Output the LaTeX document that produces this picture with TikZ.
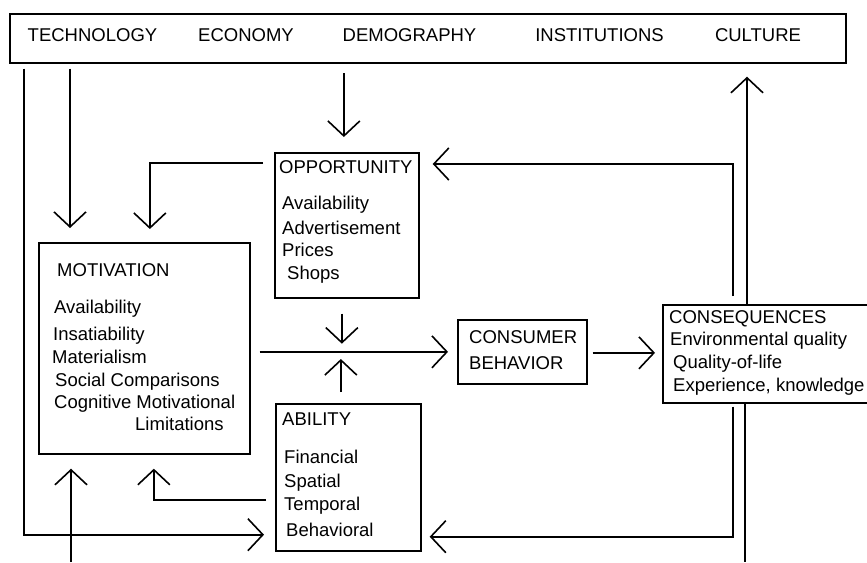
\documentclass[tikz,border=0pt]{standalone}
\usepackage{fontspec}
\setmainfont{Liberation Sans}
\usepackage{tikz}
\usetikzlibrary{arrows.meta,calc}
\tikzset{box style/.style = {%
  draw = black,
  line width = 1.7pt,
  inner sep = 0pt,
  anchor = north west
 },
 label style/.style = {%
  anchor = base west,
  inner sep = 0pt,
  font = \fontsize{18.5}{22}\selectfont
 },
 flow style/.style = {%
  line width = 1.6pt,
  -{Straight Barb[length=15pt,width=32pt,line width=1.6pt]}
 },
 line style/.style = {%
  line width = 1.6pt
 }
}

\begin{document}
\begin{tikzpicture}[x=1pt,y=-1pt]
      \useasboundingbox (0,0) rectangle (867,562);

      \node[box style, minimum width=836pt, minimum height=49pt] (forces) at (9,13) {};
      \node[box style, minimum width=144pt, minimum height=145pt] (opp) at (274,152) {};
      \node[box style, minimum width=211pt, minimum height=211pt] (mot) at (38,242) {};
      \node[box style, minimum width=145pt, minimum height=147pt] (abil) at (275,403) {};
      \node[box style, minimum width=129pt, minimum height=64pt] (cons) at (457,319) {};
      \node[box style, minimum width=210pt, minimum height=98pt] (csq) at (662,304) {};

      \node[label style, anchor=base] (tech) at (92.5,41.5) {TECHNOLOGY};
      \node[label style, anchor=base] (econ) at (246,41.5) {ECONOMY};
      \node[label style, anchor=base] (demo) at (409.5,41.5) {DEMOGRAPHY};
      \node[label style, anchor=base] (inst) at (599.5,41.5) {INSTITUTIONS};
      \node[label style, anchor=base] (cult) at (758,41.5) {CULTURE};

      \node[label style] (oppT) at (279,173.5) {OPPORTUNITY};
      \node[label style] (oppA) at (282,209.5) {Availability};
      \node[label style] (oppB) at (282,234.5) {Advertisement};
      \node[label style] (oppC) at (282,256.5) {Prices};
      \node[label style] (oppD) at (287,279.5) {Shops};

      \node[label style] (motT) at (57,276.5) {MOTIVATION};
      \node[label style] (motA) at (54,313.5) {Availability};
      \node[label style] (motB) at (53,340.5) {Insatiability};
      \node[label style] (motC) at (52,363.5) {Materialism};
      \node[label style] (motD) at (55,386.5) {Social Comparisons};
      \node[label style] (motE) at (54,408.5) {Cognitive Motivational};
      \node[label style] (motF) at (135,430.5) {Limitations};

      \node[label style] (abilT) at (282,425.5) {ABILITY};
      \node[label style] (abilA) at (284,463.5) {Financial};
      \node[label style] (abilB) at (284,487.5) {Spatial};
      \node[label style] (abilC) at (284,510.5) {Temporal};
      \node[label style] (abilD) at (286,536.5) {Behavioral};

      \node[label style] (consT) at (469,343.5) {CONSUMER};
      \node[label style] (consB) at (469,369.5) {BEHAVIOR};

      \node[label style] (csqT) at (669,323.5) {CONSEQUENCES};
      \node[label style] (csqA) at (670,345.5) {Environmental quality};
      \node[label style] (csqB) at (673,368.5) {Quality-of-life};
      \node[label style] (csqC) at (673,391.5) {Experience, knowledge};

      \coordinate (inflow) at (71,562);
      \coordinate (outflow) at (745,562);

      \draw[flow style] ($(forces.south west)+(15,5)$) |- ($(abil.south west)+(-11,-17)$);
      \draw[flow style] ($(forces.south west)+(61,5)$) -- ($(mot.north west)+(32,-14)$);
      \draw[flow style] ($(opp.north)+(-3,-79)$) -- ($(opp.north)+(-3,-15)$);
      \draw[flow style] ($(opp.north west)+(-11,11)$) -| ($(mot.north)+(5.5,-13)$);
      \draw[flow style] ($(opp.south)+(-5,15)$) -- ($(opp.south)+(-5,45)$);
      \draw[flow style] ($(abil.north)+(-7.5,-11)$) -- ($(abil.north)+(-7.5,-44)$);
      \draw[flow style] ($(mot.east |- cons.west)+(9,0)$) -- ($(cons.west)+(-9,0)$);
      \draw[flow style] ($(cons.east)+(5,1)$) -- ($(csq.west |- cons.east)+(-7,1)$);
      \draw[flow style] ($(csq.north west)+(71,-8)$) |- ($(opp.north east)+(13,12)$);
      \draw[flow style] ($(csq.north west)+(85,0)$) -- ($(csq.north west |- forces.south)+(85,13)$);
      \draw[flow style] ($(csq.south west)+(71,3)$) |- ($(abil.south east)+(8,-15)$);
      \draw[line style] ($(csq.south west)+(83,0)$) -- (outflow);
      \draw[flow style] (inflow) -- ($(mot.south west)+(33,14)$);
      \draw[flow style] ($(abil.south west)+(-9,-52)$) -| ($(mot.south)+(9.5,14)$);
     \end{tikzpicture}
\end{document}
